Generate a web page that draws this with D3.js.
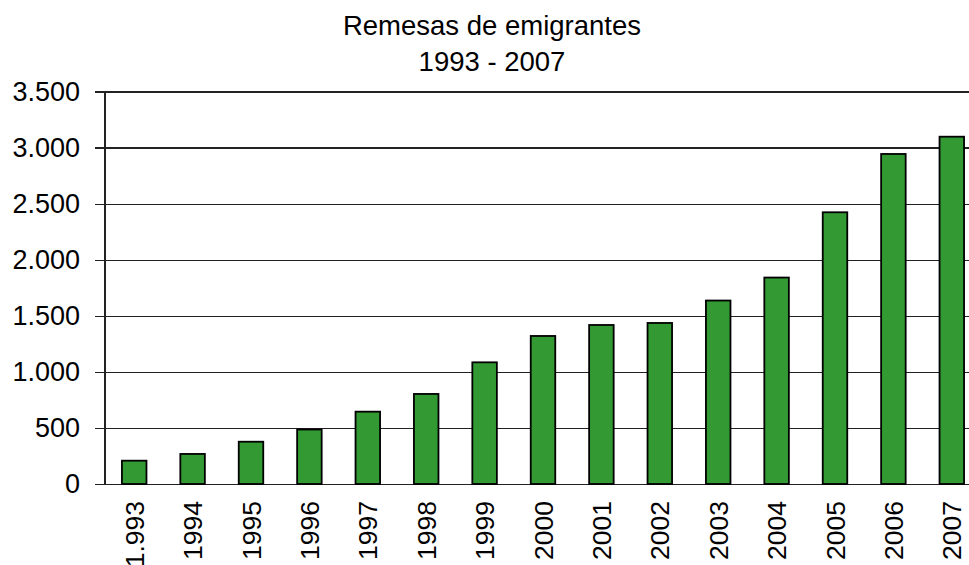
<!DOCTYPE html>
<html>
<head>
<meta charset="utf-8">
<script src="https://cdn.jsdelivr.net/npm/d3@7"></script>
<style>
  body { margin: 0; background: #fff; }
  svg { display: block; font-family: "Liberation Sans", Arial, sans-serif; }
</style>
</head>
<body>
<svg></svg>
<script>
// Data
var years = ["1.993", "1994", "1995", "1996", "1997", "1998", "1999", "2000",
             "2001", "2002", "2003", "2004", "2005", "2006", "2007"];
var remesas = [208, 268, 377, 486, 645, 803, 1085, 1320,
               1418, 1436, 1636, 1841, 2423, 2943, 3097];
var yTicks = [0, 500, 1000, 1500, 2000, 2500, 3000, 3500];
var titleLines = ["Remesas de emigrantes", "1993 - 2007"];

var width = 969, height = 565;
var plotLeft = 105, plotRight = 981, plotTop = 91.5, plotBottom = 484;

var svg = d3.select("svg")
	.attr("width", width)
	.attr("height", height);

var x = d3.scaleBand()
	.domain(years)
	.range([plotLeft, plotRight])
	.paddingInner(0.58)
	.paddingOuter(0.29);

var y = d3.scaleLinear()
	.domain([0, 3500])
	.range([plotBottom, plotTop]);

var fmt = function(v) { return d3.format(",")(v).replace(/,/g, "."); };

// Gridlines + y axis ticks
var yAxis = d3.axisLeft(y)
	.tickValues(yTicks)
	.tickSize(-(plotRight - plotLeft))
	.tickFormat(fmt);

var gy = svg.append("g")
	.attr("transform", "translate(" + plotLeft + ",0)")
	.call(yAxis);

gy.select(".domain").remove();
gy.selectAll(".tick line")
	.attr("x1", -10)
	.attr("stroke", "#222")
	.attr("stroke-width", 1.2)
	.attr("shape-rendering", "crispEdges");
gy.selectAll(".tick text")
	.attr("x", -25)
	.attr("font-size", "27px")
	.attr("font-family", "Liberation Sans, Arial, sans-serif")
	.attr("fill", "#000");

// vertical axis line
svg.append("line")
	.attr("x1", plotLeft).attr("x2", plotLeft)
	.attr("y1", y(3500)).attr("y2", y(0))
	.attr("stroke", "#222")
	.attr("stroke-width", 1.2)
	.attr("shape-rendering", "crispEdges");

// Bars
svg.append("g")
	.selectAll("rect")
	.data(remesas)
	.enter().append("rect")
		.attr("x", function(d, i) { return x(years[i]); })
		.attr("y", function(d) { return y(d); })
		.attr("width", x.bandwidth())
		.attr("height", function(d) { return y(0) - y(d); })
		.attr("fill", "#339933")
		.attr("stroke", "#000")
		.attr("stroke-width", 1.8);

// X labels (rotated)
svg.append("g")
	.selectAll("text")
	.data(years)
	.enter().append("text")
		.attr("transform", function(d) {
			return "translate(" + (x(d) + x.bandwidth() / 2) + "," + 501 + ") rotate(-90)";
		})
		.attr("dy", "0.36em")
		.attr("text-anchor", "end")
		.attr("font-size", "26.5px")
		.attr("fill", "#000")
		.text(function(d) { return d; });

// Title
svg.append("g")
	.selectAll("text")
	.data(titleLines)
	.enter().append("text")
		.attr("x", 492)
		.attr("y", function(d, i) { return 35 + i * 36; })
		.attr("text-anchor", "middle")
		.attr("font-size", "27.5px")
		.attr("fill", "#000")
		.text(function(d) { return d; });
</script>
</body>
</html>
